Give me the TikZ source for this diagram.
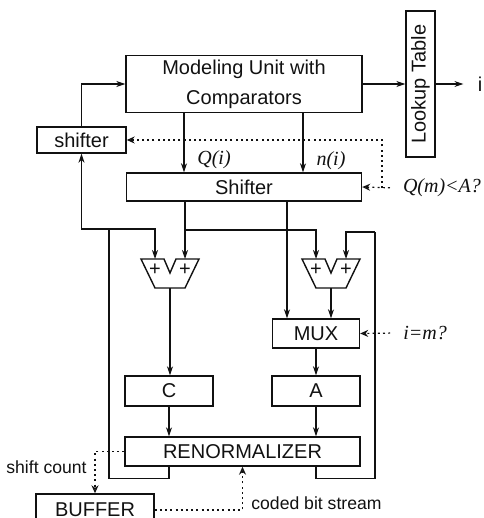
\documentclass[tikz,border=0pt]{standalone}
\usepackage{fontspec}
\setmainfont{Liberation Serif}
\setsansfont{Liberation Sans}
\usetikzlibrary{arrows.meta,calc,positioning}
\definecolor{CoderInk}{HTML}{111111}
\tikzset{
  every node/.style={font=\sffamily, text=CoderInk},
  unit/.style={draw=CoderInk, line width=0.7pt, inner sep=0pt},
  wire/.style={draw=CoderInk, line width=0.6pt},
  flow/.style={-{Stealth[length=4.5pt,width=3pt]}, draw=CoderInk, line width=0.6pt},
  signal/.style={-{Stealth[open,length=4pt,width=3.5pt]}, draw=CoderInk, line width=0.6pt, dash pattern=on 1pt off 1.6pt},
  cond/.style={font=\rmfamily\itshape, text=CoderInk},
  side/.style={font=\sffamily\fontsize{8.8}{10}\selectfont, inner sep=0pt},
  adder/.pic={
    \draw[unit] (-29,0) -- (-6,0) -- (0,14) -- (6,0) -- (29,0) -- (15,29) -- (-15,29) -- cycle;
    \node[inner sep=0pt] (-pa) at (-15,11) {+};
    \node[inner sep=0pt] (-pb) at (15,11) {+};
    \coordinate (-inl) at (-15,0);
    \coordinate (-inr) at (15,0);
    \coordinate (-out) at (0,29);
  },
}

\begin{document}
\begin{tikzpicture}[x=0.5pt,y=-0.5pt]
  \useasboundingbox (0,0) rectangle (483,518);

  % Modeling unit and lookup table
  \node[unit, minimum width=118pt, minimum height=28.5pt, align=center] (model) at (244,84) {Modeling Unit with\\[3pt]Comparators};
  \node[unit, minimum width=14.5pt, minimum height=73pt] (lut) at (420.5,84) {\rotatebox{90}{Lookup Table}};
  \node[inner sep=0pt] (iout) at (480,84) {i};
  \draw[flow] (model.east) -- (model.east -| lut.west);
  \draw[flow] (lut.east |- iout) -- ([xshift=-7pt]iout.west);

  % Shifters
  \node[unit, minimum width=44.5pt, minimum height=13pt] (sh) at (81.5,140) {shifter};
  \node[unit, minimum width=117.5pt, minimum height=14pt] (shf) at (244,187) {Shifter};
  \draw[flow] (sh.north) |- (model.west);
  \draw[flow] ([xshift=-30pt]model.south) -- ([xshift=-30pt]shf.north);
  \draw[flow] ([xshift=29.5pt]model.south) -- ([xshift=29.5pt]shf.north);
  \node[cond] (qi) at (214,160) {Q(i)};
  \node[cond] (ni) at (331,161) {n(i)};

  % Adders
  \pic (addl) at (170,259) {adder};
  \pic (addr) at (331,259) {adder};

  % Registers and renormalizer
  \node[unit, minimum width=43.5pt, minimum height=14.5pt] (mux) at (316,333.5) {MUX};
  \node[unit, minimum width=44pt, minimum height=15pt] (creg) at (169,391) {C};
  \node[unit, minimum width=44pt, minimum height=15pt] (areg) at (316,391) {A};
  \node[unit, minimum width=117.5pt, minimum height=14.5pt] (ren) at (242.5,451.5) {RENORMALIZER};
  \node[unit, minimum width=59pt, minimum height=16pt] (buf) at (95,510) {BUFFER};

  % Data paths
  \coordinate (qbus) at (0,230);
  \draw[flow] (shf.south -| addl-inr) -- (addl-inr);
  \draw[flow] (addl-inr |- qbus) -| (addr-inl);
  \draw[flow] ([xshift=21.5pt]shf.south) -- ([xshift=21.5pt]shf.south |- mux.north);
  \draw[flow] (addl-out) -- (addl-out |- creg.north);
  \draw[flow] (addr-out) -- (addr-out |- mux.north);
  \draw[flow] (mux) -- (areg);
  \draw[flow] (creg.south) -- (creg.south |- ren.north);
  \draw[flow] (areg.south) -- (areg.south |- ren.north);

  % Feedback from the renormalizer
  \coordinate (cbus) at (109,229);
  \coordinate (abus) at (375,232);
  \draw[wire] (creg.south |- ren.south) -- ++(0,12) -| (cbus);
  \draw[flow] (cbus) -| (sh.south);
  \draw[flow] (cbus) -| (addl-inl);
  \draw[wire] (areg.south |- ren.south) -- ++(0,12) -| (abus);
  \draw[flow] (abus) -| (addr-inr);

  % Control conditions
  \node[cond] (qcond) at (442,188) {Q(m)<A?};
  \node[cond] (mcond) at (425,333) {i=m?};
  \coordinate (qsplit) at (382,188);
  \draw[signal, shorten <=3pt] (qcond.west) -- (shf.east);
  \draw[signal] (qsplit) |- (sh.east);
  \draw[signal, shorten <=3pt] (mcond.west) -- (mux.east);

  % Shift count and coded bit stream
  \node[side, anchor=east] (count) at (87,467) {shift count};
  \node[side, anchor=west] (stream) at (251,503) {coded bit stream};
  \draw[signal] (ren.west) -| (buf.north);
  \draw[signal] (buf.east) -| (ren.south);
\end{tikzpicture}
\end{document}
